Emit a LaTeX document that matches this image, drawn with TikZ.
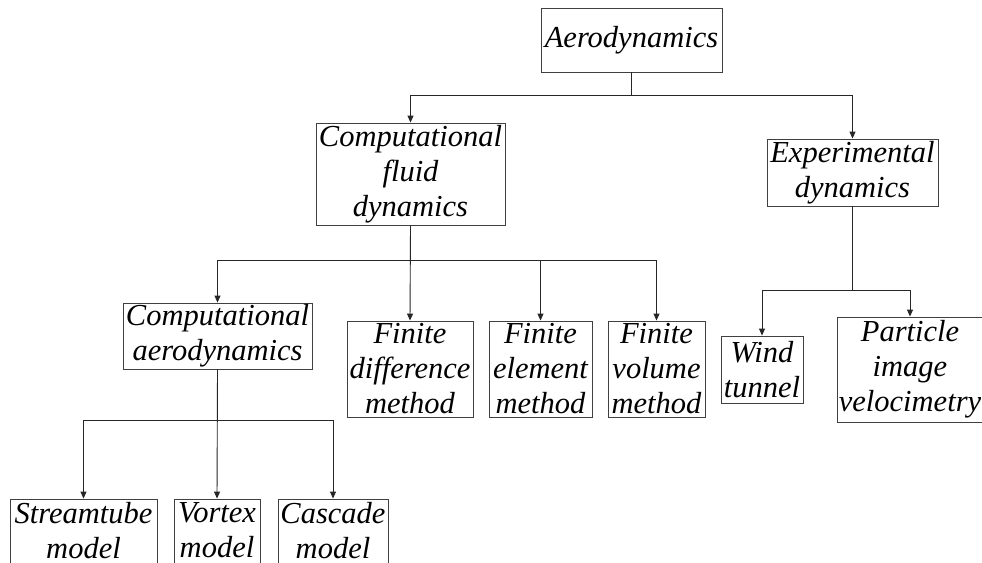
\documentclass[tikz,border=0pt]{standalone}
\usepackage{fontspec}
\setmainfont{Liberation Serif}
\usetikzlibrary{arrows.meta}
\newcommand{\lowpad}{\rule[-8pt]{0pt}{8pt}}
\tikzset{
  box/.style={draw=black!75, line width=0.9pt, inner sep=0pt, align=center,
    font=\itshape\fontsize{30.5}{35}\selectfont, fill=white},
  wire/.style={draw=black!85, line width=0.9pt},
  arr/.style={wire, -{Triangle[length=7pt,width=6pt]}}
}
\begin{document}
\begin{tikzpicture}[x=1pt,y=-1pt]
\clip (0,0) rectangle (982,562);
\fill[white] (0,0) rectangle (982,562);
% nodes
\node[box, minimum width=181pt, minimum height=64pt] (aero) at (631.5,40) {Aerodynamics};
\node[box, minimum width=189pt, minimum height=102pt] (cfd) at (410.5,174) {Computational\\fluid\\dynamics};
\node[box, minimum width=171pt, minimum height=67pt] (exp) at (852.5,172.5) {Experimental\\dynamics};
\node[box, minimum width=189pt, minimum height=66pt] (ca) at (217.5,336) {Computational\\aerodynamics};
\node[box, minimum width=126pt, minimum height=96pt] (fd) at (410,369) {Finite\\difference\\method};
\node[box, minimum width=103pt, minimum height=96pt] (fe) at (540.5,369) {Finite\\element\\method};
\node[box, minimum width=97pt, minimum height=96pt] (fv) at (656.5,369) {Finite\\volume\\method};
\node[box, minimum width=82pt, minimum height=67pt] (wind) at (762,369.5) {Wind\\tunnel};
\node[box, minimum width=146pt, minimum height=105pt] (piv) at (910,369.5) {Particle\\image\\velocimetry};
\node[box, minimum width=147pt, minimum height=70pt] (st) at (83.5,534) {Streamtube\\model\lowpad};
\node[box, minimum width=86pt, minimum height=70pt] (vx) at (217,534) {Vortex\\model\lowpad};
\node[box, minimum width=110pt, minimum height=70pt] (cs) at (333,534) {Cascade\\model\lowpad};
% junctions
\coordinate (j1) at (aero.south |- 0,95);
\coordinate (j2) at (cfd.south |- 0,260);
\coordinate (j3) at (ca.south |- 0,420);
\coordinate (j4) at (exp.south |- 0,290);
% connectors
\draw[wire] (aero.south) -- (j1);
\draw[arr] (j1) -| (cfd.north);
\draw[arr] (j1) -| (exp.north);
\draw[arr] (cfd.south) -- (fd.north);
\draw[arr] (j2) -| (ca.north);
\draw[arr] (j2) -| (fe.north);
\draw[arr] (j2) -| (fv.north);
\draw[arr] (ca.south) -- (vx.north);
\draw[arr] (j3) -| (st.north);
\draw[arr] (j3) -| (cs.north);
\draw[wire] (exp.south) -- (j4);
\draw[arr] (j4) -| (wind.north);
\draw[arr] (j4) -| (piv.north);
\end{tikzpicture}
\end{document}
